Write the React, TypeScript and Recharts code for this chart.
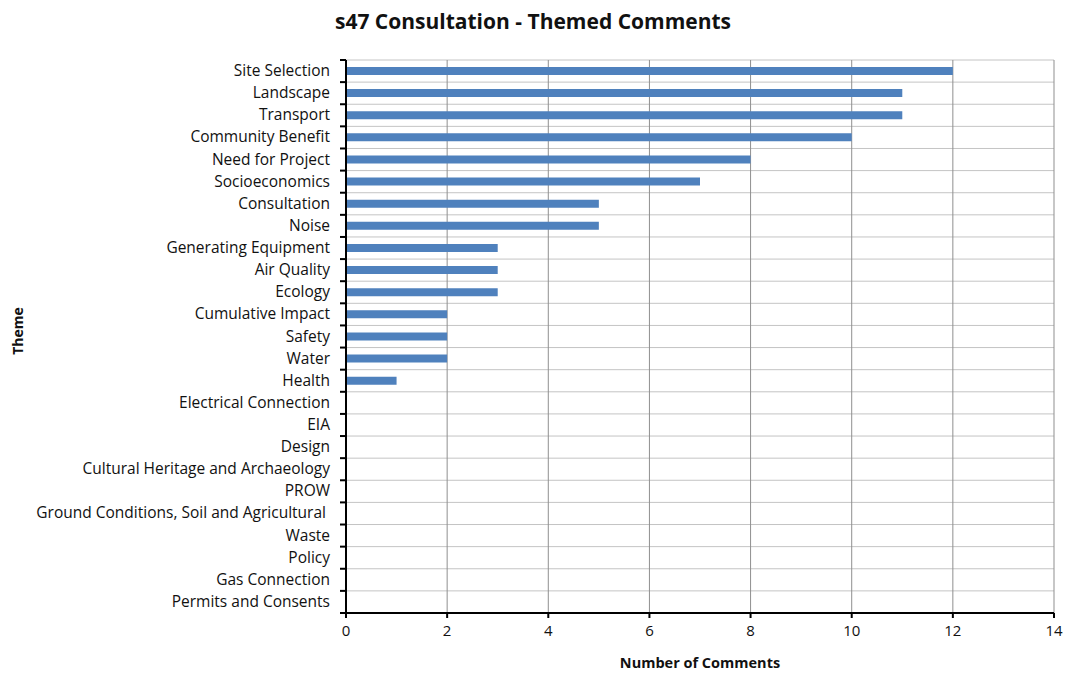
import React from "react";
import {
  BarChart,
  Bar,
  XAxis,
  YAxis,
  CartesianGrid,
  Label,
} from "recharts";

const themes = [
  "Site Selection",
  "Landscape",
  "Transport",
  "Community Benefit",
  "Need for Project",
  "Socioeconomics",
  "Consultation",
  "Noise",
  "Generating Equipment",
  "Air Quality",
  "Ecology",
  "Cumulative Impact",
  "Safety",
  "Water",
  "Health",
  "Electrical Connection",
  "EIA",
  "Design",
  "Cultural Heritage and Archaeology",
  "PROW",
  "Ground Conditions, Soil and Agricultural ",
  "Waste",
  "Policy",
  "Gas Connection",
  "Permits and Consents",
];

const comments = [12, 11, 11, 10, 8, 7, 5, 5, 3, 3, 3, 2, 2, 2, 1, 0, 0, 0, 0, 0, 0, 0, 0, 0, 0];

const xTicks = [0, 2, 4, 6, 8, 10, 12, 14];

const data = themes.map((theme, i) => ({ theme, value: comments[i] }));

const FONT = "'Open Sans', Lato, sans-serif";
const W = 1071;
const H = 673;
const MARGIN = { top: 60, right: 17, bottom: 0, left: 0 };
const Y_WIDTH = 346;
const X_HEIGHT = 60;
const PLOT_H = H - MARGIN.top - MARGIN.bottom - X_HEIGHT;
const BAND = PLOT_H / themes.length;
const TICK_MARGIN = 16;

// category label at band centre, tick mark at the band's upper edge
// eslint-disable-next-line @typescript-eslint/no-explicit-any
function ThemeTick({ x, y, payload, index }: any) {
  const axisX = x + TICK_MARGIN;
  const top = y - BAND / 2;
  return (
    <g>
      <line x1={axisX - 6} x2={axisX} y1={top} y2={top} stroke="#000" strokeWidth={2} />
      {index === themes.length - 1 && (
        <line x1={axisX - 6} x2={axisX} y1={top + BAND} y2={top + BAND} stroke="#000" strokeWidth={2} />
      )}
      <text
        x={x}
        y={y}
        dy={5}
        textAnchor="end"
        fontSize={15.5}
        fill="#111"
        fontFamily={FONT}
        style={{ whiteSpace: "pre" }}
      >
        {payload.value}
      </text>
    </g>
  );
}

export default function App() {
  return (
    <div style={{ position: "absolute", left: 0, top: 0, width: W, height: H, background: "#fff", fontFamily: FONT }}>
      <div
        style={{
          position: "absolute",
          top: 7,
          left: 0,
          width: W,
          textAlign: "center",
          fontSize: 21,
          fontWeight: 700,
          color: "#111",
          paddingRight: 5,
          boxSizing: "border-box",
        }}
      >
        s47 Consultation - Themed Comments
      </div>
      <BarChart width={W} height={H} data={data} layout="vertical" margin={MARGIN}>
        {/* light row separators at band edges */}
        <CartesianGrid
          stroke="#c4c4c4"
          vertical={false}
          horizontalCoordinatesGenerator={({ offset }: any) =>
            themes.map((_, i) => offset.top + i * BAND)
          }
        />
        {/* darker vertical lines at x ticks */}
        <CartesianGrid stroke="#8f8f8f" horizontal={false} />
        <XAxis
          type="number"
          domain={[0, 14]}
          ticks={xTicks}
          height={X_HEIGHT}
          axisLine={{ stroke: "#000", strokeWidth: 2 }}
          tickLine={{ stroke: "#000", strokeWidth: 2 }}
          tickSize={5}
          tickMargin={7}
          tick={{ fontSize: 15, fill: "#111", fontFamily: FONT }}
        >
          <Label
            content={({ viewBox }: any) => (
              <text
                x={viewBox.x + viewBox.width / 2}
                y={viewBox.y + 55}
                textAnchor="middle"
                fontSize={14.5}
                fontWeight={700}
                fill="#111"
                fontFamily={FONT}
              >
                Number of Comments
              </text>
            )}
          />
        </XAxis>
        <YAxis
          type="category"
          dataKey="theme"
          width={Y_WIDTH}
          interval={0}
          axisLine={{ stroke: "#000", strokeWidth: 2 }}
          tickLine={false}
          tickSize={0}
          tickMargin={TICK_MARGIN}
          tick={<ThemeTick />}
        >
          <Label
            content={() => (
              <text
                x={23}
                y={331}
                transform="rotate(-90 23 331)"
                textAnchor="middle"
                fontSize={14}
                fontWeight={700}
                fill="#111"
                fontFamily={FONT}
              >
                Theme
              </text>
            )}
          />
        </YAxis>
        <Bar dataKey="value" fill="#4f81bd" barSize={8} isAnimationActive={false} />
      </BarChart>
    </div>
  );
}
